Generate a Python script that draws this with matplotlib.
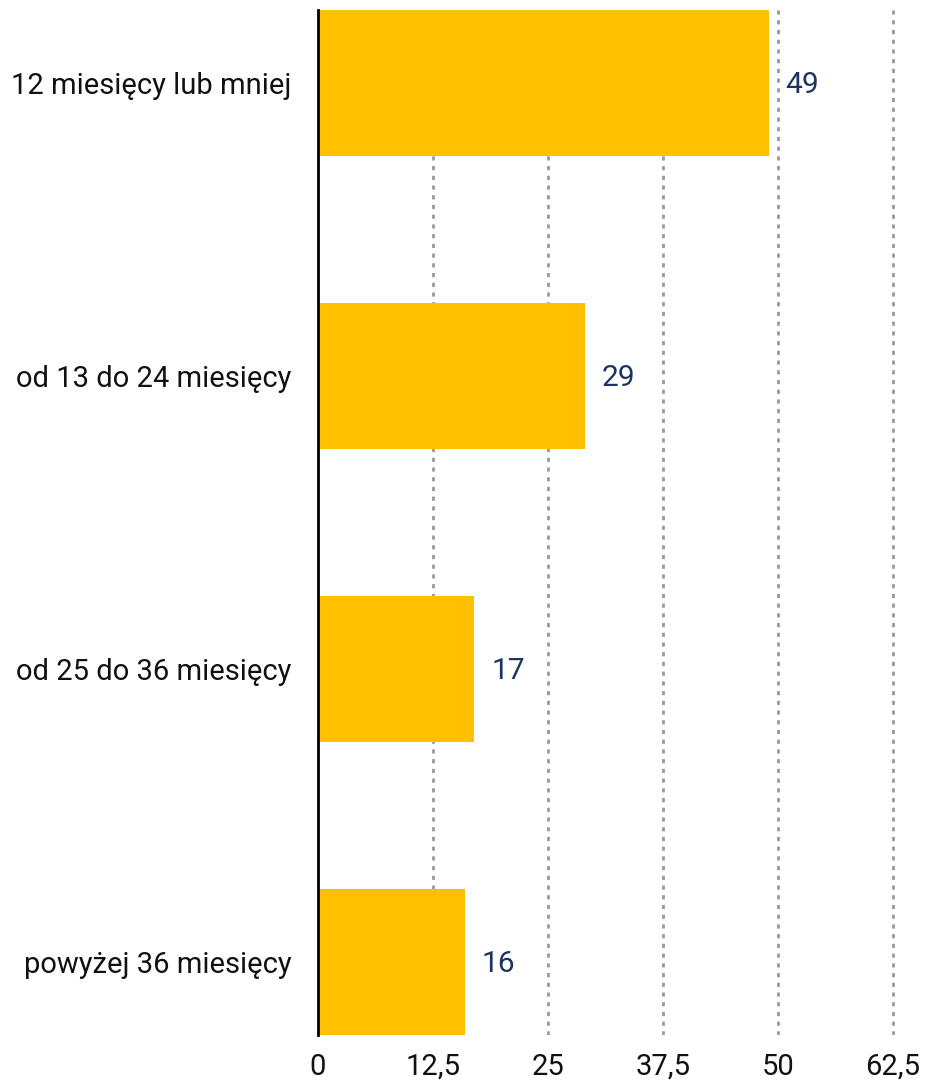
import matplotlib
matplotlib.use("Agg")
import matplotlib.pyplot as plt

categories = ["12 miesięcy lub mniej", "od 13 do 24 miesięcy",
              "od 25 do 36 miesięcy", "powyżej 36 miesięcy"]
values = [49, 29, 17, 16]
xticks = [0, 12.5, 25, 37.5, 50, 62.5]
xtick_labels = ["0", "12,5", "25", "37,5", "50", "62,5"]

plt.rcParams['font.family'] = ['Roboto', 'DejaVu Sans']

fig = plt.figure(figsize=(9.29, 10.85), dpi=100)
ax = fig.add_axes([318 / 929, 50 / 1085, 611 / 929, 1025 / 1085])

y = list(range(len(categories)))
ax.barh(y, values, height=0.5, color="#FFC000", zorder=3)

for xv in xticks[1:]:
    ax.axvline(xv, color="#999999", linestyle=(0, (1.5, 2)), linewidth=2, zorder=1)

for yi, v in zip(y, values):
    ax.annotate(str(v), (v, yi), xytext=(12, -1.5), textcoords="offset points",
                va="center", ha="left", fontsize=21.5, color="#1B3461")

ax.set_xlim(0, 611 / 9.2)
ax.set_ylim(3.25, -0.25)
ax.set_yticks(y)
ax.set_yticklabels(categories, fontsize=21, color="#111111")
ax.set_xticks(xticks)
ax.set_xticklabels(xtick_labels, fontsize=21, color="#111111")
ax.tick_params(axis="y", length=0, pad=19)
ax.tick_params(axis="x", length=0, pad=13)

for s in ["top", "right", "bottom"]:
    ax.spines[s].set_visible(False)
ax.spines["left"].set_linewidth(2)
ax.spines["left"].set_color("black")
ax.spines["left"].set_zorder(4)

fig.savefig("out.png", dpi=100)
